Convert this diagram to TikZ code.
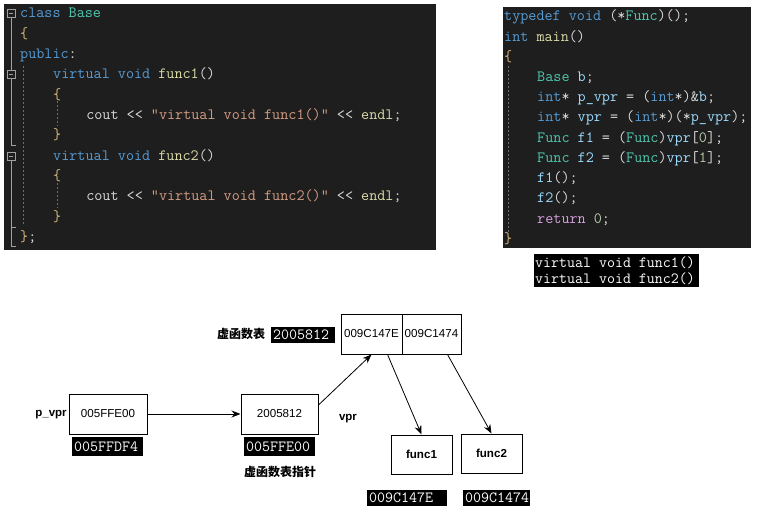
\documentclass[tikz,border=0pt]{standalone}
\usepackage{fontspec}
\newfontfamily\cjk{Noto Sans CJK SC}
\newfontfamily\diag{Liberation Sans}
\usetikzlibrary{arrows.meta}

\definecolor{codebg}{HTML}{1E1E1E}
\definecolor{kwblue}{HTML}{569CD6}
\definecolor{tyteal}{HTML}{4EC9B0}
\definecolor{fnyel}{HTML}{DCDCAA}
\definecolor{strbrown}{HTML}{D69D85}
\definecolor{varblue}{HTML}{9CDCFE}
\definecolor{brgold}{HTML}{D7BA7D}
\definecolor{plgray}{HTML}{DCDCDC}
\definecolor{rtpink}{HTML}{D8A0DF}
\definecolor{numgreen}{HTML}{B5CEA8}
\definecolor{foldgray}{HTML}{A0A0A0}
\definecolor{guidegray}{HTML}{6E6E6E}

\newcommand\kw[1]{\textcolor{kwblue}{#1}}
\newcommand\ty[1]{\textcolor{tyteal}{#1}}
\newcommand\fn[1]{\textcolor{fnyel}{#1}}
\newcommand\st[1]{\textcolor{strbrown}{#1}}
\newcommand\va[1]{\textcolor{varblue}{#1}}
\newcommand\br[1]{\textcolor{brgold}{#1}}
\newcommand\rt[1]{\textcolor{rtpink}{#1}}
\newcommand\nm[1]{\textcolor{numgreen}{#1}}
\newcommand\ltlt{<\kern0pt<}

\tikzset{
  codeline/.style={anchor=base west, inner sep=0pt, text=plgray,
    font=\ttfamily\frenchspacing\fontsize{15.7}{20}\selectfont},
  outline/.style={anchor=base west, inner sep=0pt, text=white,
    font=\ttfamily\frenchspacing\fontsize{15.5}{16}\selectfont},
  box/.style={draw, line width=1pt, minimum height=40, inner xsep=1pt,
    font=\diag\fontsize{11.6}{14}\selectfont},
  addr/.style={fill=black, text=white, anchor=west, inner xsep=2pt, inner ysep=0pt,
    align=left, font=\ttfamily\fontsize{15.5}{16}\selectfont},
  lbl/.style={font=\diag\bfseries\fontsize{11.5}{14}\selectfont},
  cnlbl/.style={font=\cjk\bfseries\fontsize{12}{14}\selectfont},
  ptr/.style={-{Stealth[length=9pt,width=7pt]}, line width=0.8pt},
  fold/.style={draw=foldgray, line width=0.8pt},
  guide/.style={draw=guidegray, dash pattern=on 2pt off 2pt, line width=0.8pt}
}

\begin{document}
\begin{tikzpicture}[x=1pt, y=-1pt]
    \useasboundingbox (0,0) rectangle (758,516);

    \fill[codebg] (4,4) rectangle (436,250);
    \draw[fold] (7,9) rectangle (15,17);
    \draw[fold] (9,13) -- (13,13);
    \draw[fold] (11,17) -- (11,70);
    \draw[fold] (7,70) rectangle (15,78);
    \draw[fold] (9,74) -- (13,74);
    \draw[fold] (11,78) -- (11,145) -- (16,145);
    \draw[fold] (7,152) rectangle (15,160);
    \draw[fold] (9,156) -- (13,156);
    \draw[fold] (11,160) -- (11,246) -- (16,246);
    \draw[fold] (11,227) -- (16,227);
    \draw[guide] (23,66) -- (23,224);
    \draw[guide] (57,101) -- (57,126);
    \draw[guide] (57,183) -- (57,208);

    \node[codeline] (l1) at (20,18) {\kw{class} \ty{Base}};
    \node[codeline] (l2) at (20,38.3) {\br{\{}};
    \node[codeline] (l3) at (20,58.6) {\kw{public}:};
    \node[codeline] (l4) at (53.04,78.9) {\kw{virtual} \kw{void} \fn{func1}()};
    \node[codeline] (l5) at (53.04,99.2) {\br{\{}};
    \node[codeline] (l6) at (86.08,119.5) {cout \ltlt{} \st{"virtual void func1()"} \ltlt{} \fn{endl};};
    \node[codeline] (l7) at (53.04,139.8) {\br{\}}};
    \node[codeline] (l8) at (53.04,160.1) {\kw{virtual} \kw{void} \fn{func2}()};
    \node[codeline] (l9) at (53.04,180.4) {\br{\{}};
    \node[codeline] (l10) at (86.08,200.7) {cout \ltlt{} \st{"virtual void func2()"} \ltlt{} \fn{endl};};
    \node[codeline] (l11) at (53.04,221) {\br{\}}};
    \node[codeline] (l12) at (20,241.3) {\br{\}};};

    \fill[codebg] (503,7) rectangle (751,248);
    \draw[guide] (508,66) -- (508,233);
    \node[codeline] (r1) at (504,21) {\kw{typedef} \kw{void} (*\ty{Func})();};
    \node[codeline] (r2) at (504,41.2) {\kw{int} \fn{main}()};
    \node[codeline] (r3) at (504,61.4) {\br{\{}};
    \node[codeline] (r4) at (537.04,81.6) {\ty{Base} \va{b};};
    \node[codeline] (r5) at (537.04,101.8) {\kw{int}* \va{p\_vpr} = (\kw{int}*)\&\va{b};};
    \node[codeline] (r6) at (537.04,122) {\kw{int}* \va{vpr} = (\kw{int}*)(*\va{p\_vpr});};
    \node[codeline] (r7) at (537.04,142.2) {\ty{Func} \va{f1} = (\ty{Func})\va{vpr}[\nm{0}];};
    \node[codeline] (r8) at (537.04,162.4) {\ty{Func} \va{f2} = (\ty{Func})\va{vpr}[\nm{1}];};
    \node[codeline] (r9) at (537.04,182.6) {\va{f1}();};
    \node[codeline] (r10) at (537.04,202.8) {\va{f2}();};
    \node[codeline] (r11) at (537.04,223) {\rt{return} \nm{0};};
    \node[codeline] (r12) at (504,243.2) {\br{\}}};

    \fill[black] (534,254) rectangle (699,287);
    \node[outline] (o1) at (535,267.5) {virtual void func1()};
    \node[outline] (o2) at (535,283) {virtual void func2()};

    \node[box, minimum width=78] (pv) at (108,414) {005FFE00};
    \node[box, minimum width=77] (vp) at (279.5,414) {2005812};
    \node[box, minimum width=61] (ca) at (371.5,334) {009C147E};
    \node[box, minimum width=59] (cb) at (431.5,334) {009C1474};
    \node[box, minimum width=61, minimum height=39] (f1) at (421.5,454.5) {\bfseries func1};
    \node[box, minimum width=61, minimum height=39] (f2) at (491.5,453.5) {\bfseries func2};

    \node[lbl] (pvl) at (51,415) {p\_vpr};
    \node[lbl] (vpl) at (348,419) {vpr};
    \node[cnlbl] (vtl) at (241,334) {虚函数表};
    \node[cnlbl] (vpn) at (280,472) {虚函数表指针};

    \node[addr, text width=60, minimum height=16] (a0) at (271,335) {2005812};
    \node[addr, text width=67, minimum height=19] (a1) at (72,446.5) {005FFDF4};
    \node[addr, text width=67, minimum height=19] (a2) at (244,446.5) {005FFE00};
    \node[addr, text width=76, minimum height=16] (a3) at (367,498) {009C147E};
    \node[addr, text width=63, minimum height=16] (a4) at (463,498) {009C1474};

    \draw[ptr] (pv) -- (vp);
    \draw[ptr] (vp.13) -- (ca.south);
    \draw[ptr] (ca.-52) -- (f1.north);
    \draw[ptr] (cb.-52) -- (f2.north);
\end{tikzpicture}
\end{document}
